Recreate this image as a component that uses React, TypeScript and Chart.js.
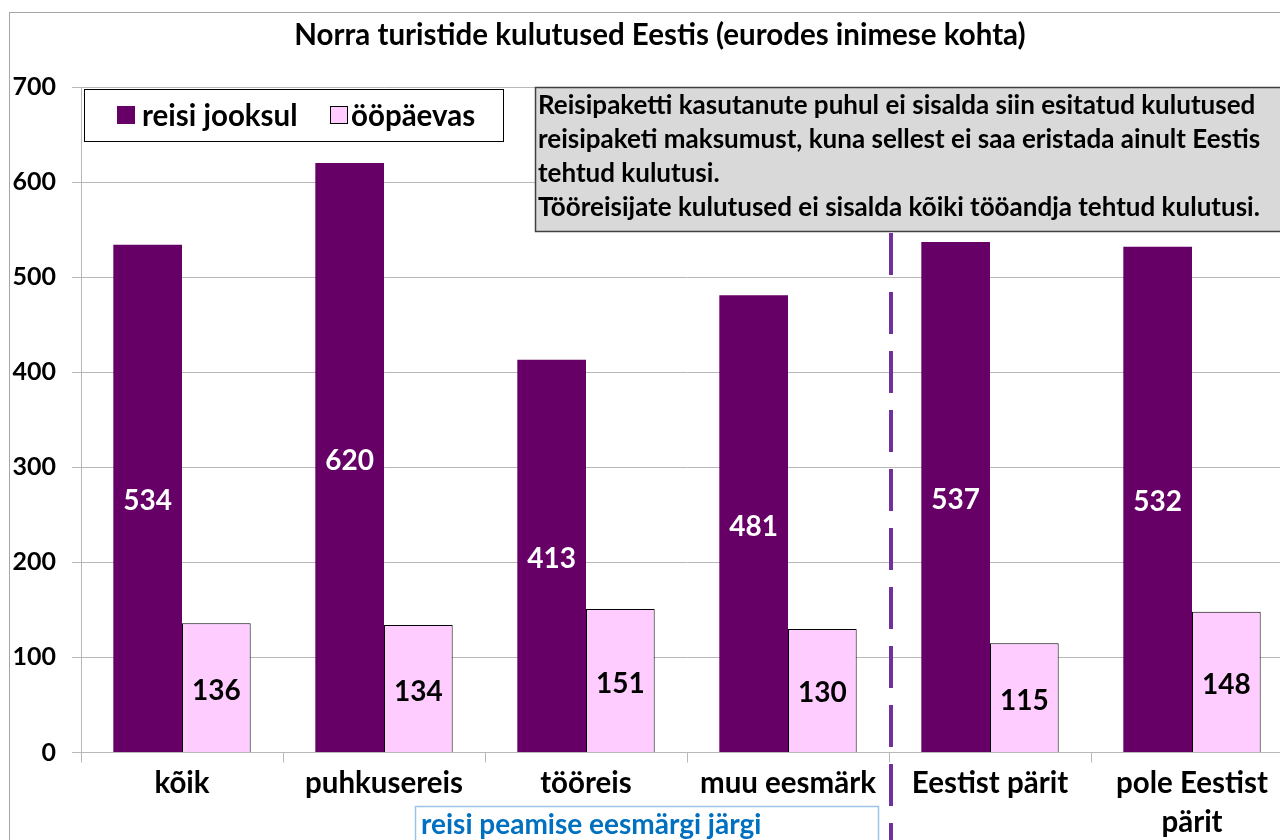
import React, { useEffect, useRef } from "react";
import { Chart, registerables } from "chart.js";

Chart.register(...registerables);

const categories: string[][] = [
  ["kõik"],
  ["puhkusereis"],
  ["tööreis"],
  ["muu eesmärk"],
  ["Eestist pärit"],
  ["pole Eestist", "pärit"],
];
const tripValues = [534, 620, 413, 481, 537, 532];
const dayValues = [136, 134, 151, 130, 115, 148];
const seriesNames = ["reisi jooksul", "ööpäevas"];
const titleText = "Norra turistide kulutused Eestis (eurodes inimese kohta)";
const noteLines = [
  "Reisipaketti kasutanute puhul ei sisalda siin esitatud kulutused",
  "reisipaketi maksumust, kuna sellest ei saa eristada ainult Eestis",
  "tehtud kulutusi.",
  "Tööreisijate kulutused ei sisalda kõiki tööandja tehtud kulutusi.",
];
const groupLabel = "reisi peamise eesmärgi järgi";
const yMax = 700;
const yStep = 100;

const FONT = 'Lato, "Open Sans", sans-serif';
const PURPLE = "#660066";
const PINK = "#ffccff";
const GRID = "#b8b8b8";

const decorPlugin = {
  id: "decor",
  beforeDraw(chart: any) {
    const ctx = chart.ctx;
    ctx.save();
    ctx.fillStyle = "#ffffff";
    ctx.fillRect(0, 0, chart.width, chart.height);
    ctx.strokeStyle = "#a6a6a6";
    ctx.lineWidth = 1;
    ctx.strokeRect(9.5, 12.5, chart.width + 20, chart.height + 20);
    ctx.fillStyle = "#000";
    ctx.font = `bold 29.5px ${FONT}`;
    ctx.textAlign = "center";
    ctx.textBaseline = "alphabetic";
    ctx.fillText(titleText, 660, 45);
    ctx.restore();
  },
  afterDatasetsDraw(chart: any) {
    const ctx = chart.ctx;
    ctx.save();
    // value labels
    chart.data.datasets.forEach((ds: any, di: number) => {
      const meta = chart.getDatasetMeta(di);
      meta.data.forEach((el: any, i: number) => {
        const v = ds.data[i];
        ctx.font = `bold 28px ${FONT}`;
        ctx.fillStyle = di === 0 ? "#ffffff" : "#000000";
        ctx.textAlign = "center";
        ctx.textBaseline = "middle";
        ctx.fillText(String(v), el.x, (el.y + el.base) / 2 + 3);
      });
    });
    // dashed separator
    const xs = chart.scales.x;
    const sepX = (xs.getPixelForValue(3) + xs.getPixelForValue(4)) / 2 + 2;
    ctx.strokeStyle = "#7030a0";
    ctx.lineWidth = 4;
    ctx.setLineDash([42, 17]);
    ctx.beginPath();
    ctx.moveTo(sepX, 233);
    ctx.lineTo(sepX, chart.height + 10);
    ctx.stroke();
    ctx.setLineDash([]);

    // note box
    ctx.fillStyle = "#d9d9d9";
    ctx.fillRect(535.5, 87.5, 800, 144);
    ctx.strokeStyle = "#404040";
    ctx.lineWidth = 1.5;
    ctx.strokeRect(535.5, 87.5, 800, 144);
    ctx.fillStyle = "#000";
    ctx.font = `bold 26px ${FONT}`;
    ctx.textAlign = "left";
    ctx.textBaseline = "alphabetic";
    noteLines.forEach((t, i) => ctx.fillText(t, 538, 114 + i * 34));

    // legend
    ctx.fillStyle = "#fff";
    ctx.fillRect(84.5, 89.5, 419, 52);
    ctx.strokeStyle = "#000";
    ctx.lineWidth = 1;
    ctx.strokeRect(84.5, 89.5, 419, 52);
    ctx.fillStyle = PURPLE;
    ctx.fillRect(117, 106, 18, 18);
    ctx.fillStyle = PINK;
    ctx.fillRect(330.5, 106.5, 17, 17);
    ctx.strokeStyle = "#000";
    ctx.strokeRect(330.5, 106.5, 17, 17);
    ctx.fillStyle = "#000";
    ctx.font = `bold 29.5px ${FONT}`;
    ctx.textBaseline = "middle";
    ctx.fillText(seriesNames[0], 142, 116);
    ctx.fillText(seriesNames[1], 351, 116);

    // group label box
    ctx.strokeStyle = "#9dc3e6";
    ctx.lineWidth = 1.5;
    ctx.strokeRect(415.5, 806.5, 463, 60);
    ctx.fillStyle = "#0070c0";
    ctx.font = `bold 28px ${FONT}`;
    ctx.textBaseline = "alphabetic";
    ctx.fillText(groupLabel, 421, 834);
    ctx.restore();
  },
};

export default function App() {
  const ref = useRef<HTMLCanvasElement | null>(null);
  useEffect(() => {
    if (!ref.current) return;
    Chart.defaults.font.family = FONT;
    const chart = new Chart(ref.current, {
      type: "bar",
      data: {
        labels: categories,
        datasets: [
          {
            label: seriesNames[0],
            data: tripValues,
            backgroundColor: PURPLE,
            borderWidth: 0,
            categoryPercentage: 0.68,
            barPercentage: 1,
          },
          {
            label: seriesNames[1],
            data: dayValues,
            backgroundColor: PINK,
            borderColor: "#000",
            borderWidth: 1,
            categoryPercentage: 0.68,
            barPercentage: 1,
          },
        ],
      },
      options: {
        animation: false,
        responsive: false,
        maintainAspectRatio: false,
        layout: { padding: { left: 0, top: 87, right: 7, bottom: 0 } },
        plugins: {
          legend: { display: false },
          title: { display: false },
          tooltip: { enabled: false },
        },
        scales: {
          x: {
            grid: {
              display: true,
              drawOnChartArea: false,
              drawTicks: true,
              tickLength: 10,
              color: GRID,
              offset: true,
            },
            border: { display: true, color: GRID },
            ticks: {
              color: "#000",
              padding: 1,
              maxRotation: 0,
              autoSkip: false,
              font: { family: FONT, size: 29.5, weight: "bold", lineHeight: "39px" },
            },
            afterFit(scale: any) {
              scale.height = 87.5;
            },
          },
          y: {
            min: 0,
            max: yMax,
            ticks: {
              stepSize: yStep,
              color: "#000",
              padding: 16,
              font: { family: FONT, size: 25, weight: "bold" },
            },
            grid: { color: GRID, tickLength: 9 },
            border: { display: true, color: GRID },
            afterFit(scale: any) {
              scale.width = 81;
            },
          },
        },
      },
      plugins: [decorPlugin],
    } as any);
    return () => chart.destroy();
  }, []);
  return (
    <div
      style={{
        position: "fixed",
        left: 0,
        top: 0,
        width: 1280,
        height: 840,
        overflow: "hidden",
        background: "#fff",
      }}
    >
      <canvas ref={ref} width={1300} height={840} style={{ width: 1300, height: 840, display: "block" }} />
    </div>
  );
}
